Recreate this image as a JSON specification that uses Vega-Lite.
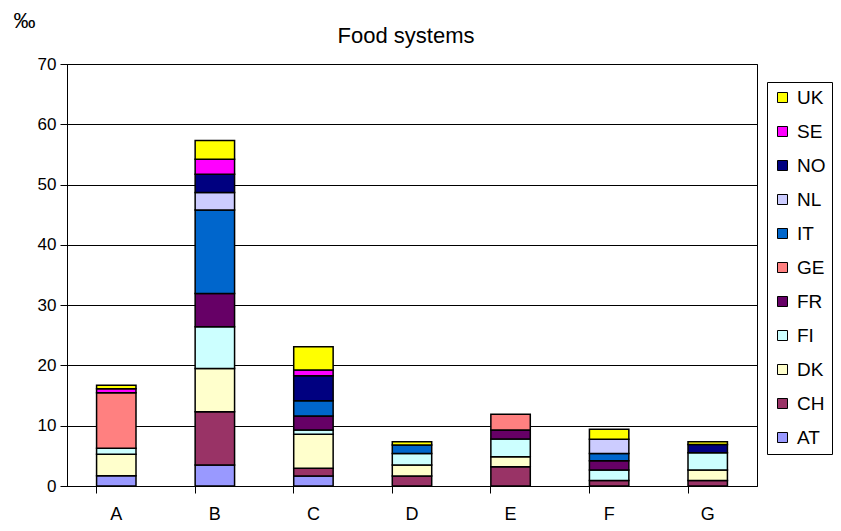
{
  "$schema": "https://vega.github.io/schema/vega-lite/v6.json",
  "width": 690,
  "height": 422,
  "autosize": {"type": "none"},
  "padding": {"left": 67, "top": 64, "right": 84, "bottom": 45},
  "background": "white",
  "config": {
    "font": "Liberation Sans",
    "view": {"stroke": "black", "strokeWidth": 1}
  },
  "title": {"text": "Food systems", "fontSize": 22, "fontWeight": "normal", "color": "black", "offset": 12, "dx": -6, "dy": 51, "font": "Liberation Sans"},
  "data": {
    "values": [
      {"cat": "A", "country": "AT", "v": 1.7},
      {"cat": "A", "country": "DK", "v": 3.55},
      {"cat": "A", "country": "FI", "v": 1.0},
      {"cat": "A", "country": "GE", "v": 9.2},
      {"cat": "A", "country": "SE", "v": 0.7},
      {"cat": "A", "country": "UK", "v": 0.55},
      {"cat": "B", "country": "AT", "v": 3.5},
      {"cat": "B", "country": "CH", "v": 8.8},
      {"cat": "B", "country": "DK", "v": 7.2},
      {"cat": "B", "country": "FI", "v": 6.9},
      {"cat": "B", "country": "FR", "v": 5.55},
      {"cat": "B", "country": "IT", "v": 13.85},
      {"cat": "B", "country": "NL", "v": 2.9},
      {"cat": "B", "country": "NO", "v": 3.0},
      {"cat": "B", "country": "SE", "v": 2.5},
      {"cat": "B", "country": "UK", "v": 3.1},
      {"cat": "C", "country": "AT", "v": 1.65},
      {"cat": "C", "country": "CH", "v": 1.3},
      {"cat": "C", "country": "DK", "v": 5.65},
      {"cat": "C", "country": "FI", "v": 0.7},
      {"cat": "C", "country": "FR", "v": 2.3},
      {"cat": "C", "country": "IT", "v": 2.55},
      {"cat": "C", "country": "NO", "v": 4.15},
      {"cat": "C", "country": "SE", "v": 0.95},
      {"cat": "C", "country": "UK", "v": 3.85},
      {"cat": "D", "country": "CH", "v": 1.65},
      {"cat": "D", "country": "DK", "v": 1.85},
      {"cat": "D", "country": "FI", "v": 1.9},
      {"cat": "D", "country": "IT", "v": 1.4},
      {"cat": "D", "country": "UK", "v": 0.55},
      {"cat": "E", "country": "CH", "v": 3.2},
      {"cat": "E", "country": "DK", "v": 1.65},
      {"cat": "E", "country": "FI", "v": 2.95},
      {"cat": "E", "country": "FR", "v": 1.5},
      {"cat": "E", "country": "GE", "v": 2.6},
      {"cat": "F", "country": "CH", "v": 0.9},
      {"cat": "F", "country": "FI", "v": 1.75},
      {"cat": "F", "country": "FR", "v": 1.55},
      {"cat": "F", "country": "IT", "v": 1.2},
      {"cat": "F", "country": "NL", "v": 2.35},
      {"cat": "F", "country": "UK", "v": 1.65},
      {"cat": "G", "country": "CH", "v": 0.9},
      {"cat": "G", "country": "DK", "v": 1.75},
      {"cat": "G", "country": "FI", "v": 2.85},
      {"cat": "G", "country": "NO", "v": 1.4},
      {"cat": "G", "country": "UK", "v": 0.45}
    ]
  },
  "mark": {"type": "bar", "stroke": "black", "strokeWidth": 1.5},
  "encoding": {
    "x": {
      "field": "cat", "type": "nominal",
      "scale": {"paddingInner": 0.6, "paddingOuter": 0.3},
      "axis": {
        "title": null, "labelAngle": 0, "labelFontSize": 18, "labelColor": "black",
        "labelPadding": 12, "tickSize": 7, "tickColor": "black", "domainColor": "black",
        "bandPosition": 0, "grid": false
      }
    },
    "y": {
      "field": "v", "type": "quantitative", "aggregate": "sum", "stack": "zero",
      "scale": {"domain": [0, 70], "nice": false},
      "axis": {
        "title": "‰", "titleAngle": 0, "titleX": -54, "titleY": -44, "titleAlign": "left",
        "titleBaseline": "middle", "titleFontSize": 22, "titleFontWeight": "normal", "titleColor": "black",
        "values": [0, 10, 20, 30, 40, 50, 60, 70],
        "labelFontSize": 17, "labelColor": "black", "labelPadding": 4,
        "tickSize": 7, "tickColor": "black", "domainColor": "black",
        "grid": true, "gridColor": "black", "gridWidth": 1, "gridOpacity": 1
      }
    },
    "color": {
      "field": "country", "type": "nominal", "sort": "descending",
      "scale": {
        "domain": ["UK", "SE", "NO", "NL", "IT", "GE", "FR", "FI", "DK", "CH", "AT"],
        "range": ["#FFFF00", "#FF00FF", "#000080", "#CCCCFF", "#0066CC", "#FF8080", "#660066", "#CCFFFF", "#FFFFCC", "#993366", "#9999FF"]
      },
      "legend": {
        "title": null, "orient": "none", "legendX": 700, "legendY": 18,
        "symbolType": "square", "symbolSize": 100, "symbolStrokeColor": "black", "symbolStrokeWidth": 1,
        "symbolOpacity": 1,
        "labelFontSize": 19, "labelColor": "black", "labelOffset": 5,
        "rowPadding": 14, "strokeColor": "black", "padding": 6
      }
    },
    "order": {"field": "country", "type": "nominal", "sort": "ascending"}
  }
}
